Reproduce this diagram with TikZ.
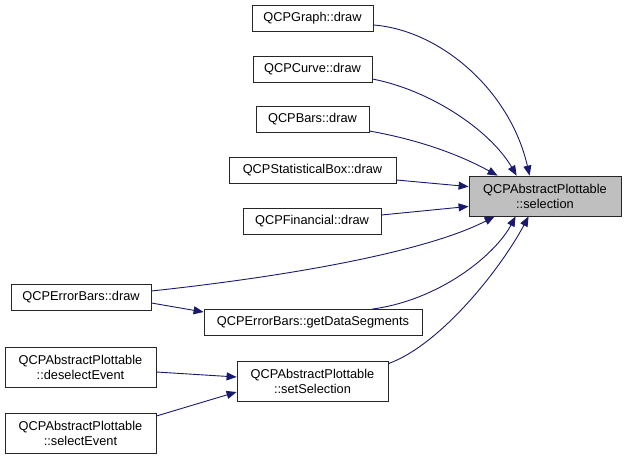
\documentclass[tikz,border=0pt]{standalone}
\usepackage{fontspec}
\setmainfont{Liberation Sans}
\usetikzlibrary{arrows.meta}
\definecolor{edgeblue}{RGB}{25,25,112}
\definecolor{selgray}{RGB}{191,191,191}
\tikzset{
  fn/.style={draw=black!85, line width=0.8pt, fill=white, inner sep=0pt, align=center,
    font=\fontsize{12.8}{15}\selectfont, minimum height=26pt},
  fn2/.style={fn, minimum height=40pt},
  hl/.style={fn2, fill=selgray},
  call/.style={draw=edgeblue, line width=0.9pt, -{Triangle[length=10pt,width=8pt]}, edgeblue}
}
\begin{document}
\begin{tikzpicture}[x=1pt,y=-1pt]
\useasboundingbox (0,0) rectangle (625,459);
% nodes
\node[fn, minimum width=121pt] (graph) at (312.5,18.5) {QCPGraph::draw};
\node[fn, minimum width=119pt] (curve) at (312.5,69.5) {QCPCurve::draw};
\node[fn, minimum width=113pt] (bars) at (312.5,119.5) {QCPBars::draw};
\node[fn, minimum width=167pt] (stat) at (312.5,170.5) {QCPStatisticalBox::draw};
\node[fn, minimum width=138pt] (fin) at (312,221) {QCPFinancial::draw};
\node[hl, minimum width=152pt] (sel) at (545,196) {QCPAbstractPlottable\\::selection};
\node[fn, minimum width=140pt] (edraw) at (81,297.5) {QCPErrorBars::draw};
\node[fn, minimum width=218pt] (gds) at (313,322.5) {QCPErrorBars::getDataSegments};
\node[fn2, minimum width=151pt] (desel) at (80.5,367.5) {QCPAbstractPlottable\\::deselectEvent};
\node[fn2, minimum width=151pt] (setsel) at (312.5,381) {QCPAbstractPlottable\\::setSelection};
\node[fn2, minimum width=151pt] (selev) at (80.5,433) {QCPAbstractPlottable\\::selectEvent};
% edges
\draw[call] ([yshift=-6.5pt]graph.east) .. controls (440,30) and (510,90) .. ([xshift=61pt]sel.north west);
\draw[call] ([yshift=-9.5pt]curve.east) .. controls (430,90) and (490,130) .. ([xshift=48pt]sel.north west);
\draw[call] ([yshift=-11.5pt]bars.east) .. controls (420,140) and (460,155) .. ([xshift=29pt]sel.north west);
\draw[call] ([yshift=-9.5pt]stat.east) -- ([yshift=-11pt]sel.north west);
\draw[call] ([yshift=6pt]fin.east) -- ([yshift=10pt]sel.south west);
\draw[call] ([yshift=6.5pt]edraw.east) .. controls (300,275) and (430,250) .. ([xshift=26pt]sel.south west);
\draw[call] ([xshift=59pt]gds.north) .. controls (440,300) and (495,255) .. ([xshift=47pt]sel.south west);
\draw[call] ([yshift=-3pt]setsel.north east) .. controls (440,345) and (500,270) .. ([xshift=60pt]sel.south west);
\draw[call] ([yshift=-5.5pt]edraw.east) -- ([yshift=10.5pt]gds.west);
\draw[call] ([yshift=-4.5pt]desel.east) -- ([yshift=4pt]setsel.west);
\draw[call] ([yshift=17pt]selev.east) -- ([yshift=-11pt]setsel.west);
\end{tikzpicture}
\end{document}
